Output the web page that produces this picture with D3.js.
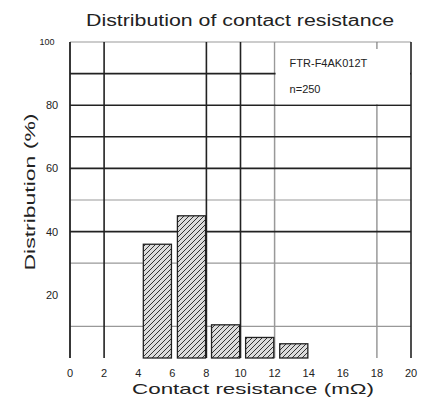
<!DOCTYPE html>
<html><head><meta charset="utf-8">
<script src="https://cdn.jsdelivr.net/npm/d3@7"></script>
<style>body{margin:0;background:#fff}svg{display:block}</style>
</head><body><svg id="c" width="436" height="408"></svg>
<script>
const binStarts = [4, 6, 8, 10, 12];
const binWidth = 2;
const distribution = [36, 45, 10.5, 6.5, 4.5];
const xTicks = [0,2,4,6,8,10,12,14,16,18,20];
const yTickLabels = [20,40,60,80,100];
const hGridDark = [90,80,70,60,40];
const hGridLight = [100,50,30,10];
const vGridDark = [2,8,10,20];
const vGridLight = [12,18];
const legendLines = ["FTR-F4AK012T", "n=250"];

const svg = d3.select("#c");
const x = d3.scaleLinear().domain([0,20]).range([70,411]);
const y = d3.scaleLinear().domain([0,100]).range([358,42]);
const font = "Liberation Sans, Arial, sans-serif";

const defs = svg.append("defs");
const pat = defs.append("pattern").attr("id","hatch").attr("patternUnits","userSpaceOnUse")
  .attr("width",5).attr("height",5);
pat.append("rect").attr("width",5).attr("height",5).attr("fill","#dcdcdc");
pat.append("path").attr("d","M-1,1 L1,-1 M0,5 L5,0 M4,6 L6,4").attr("stroke","#333").attr("stroke-width",1);

// gridlines
svg.append("g").selectAll("line").data(hGridLight).join("line")
  .attr("x1",x(0)).attr("x2",x(20)).attr("y1",d=>y(d)).attr("y2",d=>y(d))
  .attr("stroke","#999").attr("stroke-width",1.2);
svg.append("g").selectAll("line").data(vGridLight).join("line")
  .attr("x1",d=>x(d)).attr("x2",d=>x(d)).attr("y1",y(100)).attr("y2",y(0))
  .attr("stroke","#999").attr("stroke-width",1.5);
svg.append("g").selectAll("line").data(hGridDark).join("line")
  .attr("x1",x(0)).attr("x2",x(20)).attr("y1",d=>y(d)).attr("y2",d=>y(d))
  .attr("stroke","#222").attr("stroke-width",1.6);
svg.append("g").selectAll("line").data(vGridDark).join("line")
  .attr("x1",d=>x(d)).attr("x2",d=>x(d)).attr("y1",y(100)).attr("y2",y(0))
  .attr("stroke","#222").attr("stroke-width",1.6);

// legend box (covers grid)
svg.append("rect").attr("x",x(12)+1).attr("y",y(100)+1)
  .attr("width",x(20)-x(12)-2).attr("height",y(80)-y(100)-2).attr("fill","#fff");
svg.append("line").attr("x1",x(18)).attr("x2",x(18)).attr("y1",y(100)).attr("y2",y(100)+7)
  .attr("stroke","#999").attr("stroke-width",1.5);
svg.append("g").selectAll("text").data(legendLines).join("text")
  .attr("x",x(12)+15).attr("y",(d,i)=>y(93.5)+i*26+4)
  .attr("font-family",font).attr("font-size",i=>11).attr("fill","#222")
  .text(d=>d);

// bars
const bars = svg.append("g").selectAll("rect").data(distribution).join("rect")
  .attr("x",(d,i)=>x(binStarts[i]+0.3))
  .attr("width",(d,i)=>x(binStarts[i]+binWidth-0.05)-x(binStarts[i]+0.3))
  .attr("y",d=>y(d)).attr("height",d=>y(0)-y(d))
  .attr("fill","url(#hatch)").attr("stroke","#222").attr("stroke-width",1.3);

// y axis line
svg.append("line").attr("x1",x(0)).attr("x2",x(0)).attr("y1",y(100)).attr("y2",y(0))
  .attr("stroke","#222").attr("stroke-width",1.8);

// tick labels
svg.append("g").selectAll("text").data(xTicks).join("text")
  .attr("x",d=>x(d)).attr("y",377).attr("text-anchor","middle")
  .attr("font-family",font).attr("font-size",11).attr("fill","#222").text(d=>d);
svg.append("g").selectAll("text").data(yTickLabels).join("text")
  .attr("x",d=>d===100?47:52).attr("y",d=>y(d)+(d===100?3:4)).attr("text-anchor","middle")
  .attr("font-family",font).attr("font-size",d=>d===100?9:11).attr("fill","#222").text(d=>d);

// titles
svg.append("text").attr("x",240).attr("y",26).attr("text-anchor","middle")
  .attr("font-family",font).attr("font-size",16).attr("fill","#222")
  .attr("textLength",308).attr("lengthAdjust","spacingAndGlyphs")
  .text("Distribution of contact resistance");
svg.append("text").attr("x",253).attr("y",394).attr("text-anchor","middle")
  .attr("font-family",font).attr("font-size",15).attr("fill","#222")
  .attr("textLength",242).attr("lengthAdjust","spacingAndGlyphs")
  .text("Contact resistance (mΩ)");
svg.append("text").attr("transform","translate(35,192) rotate(-90)").attr("text-anchor","middle")
  .attr("font-family",font).attr("font-size",15).attr("fill","#222")
  .attr("textLength",157).attr("lengthAdjust","spacingAndGlyphs")
  .text("Distribution (%)");
</script></body></html>
